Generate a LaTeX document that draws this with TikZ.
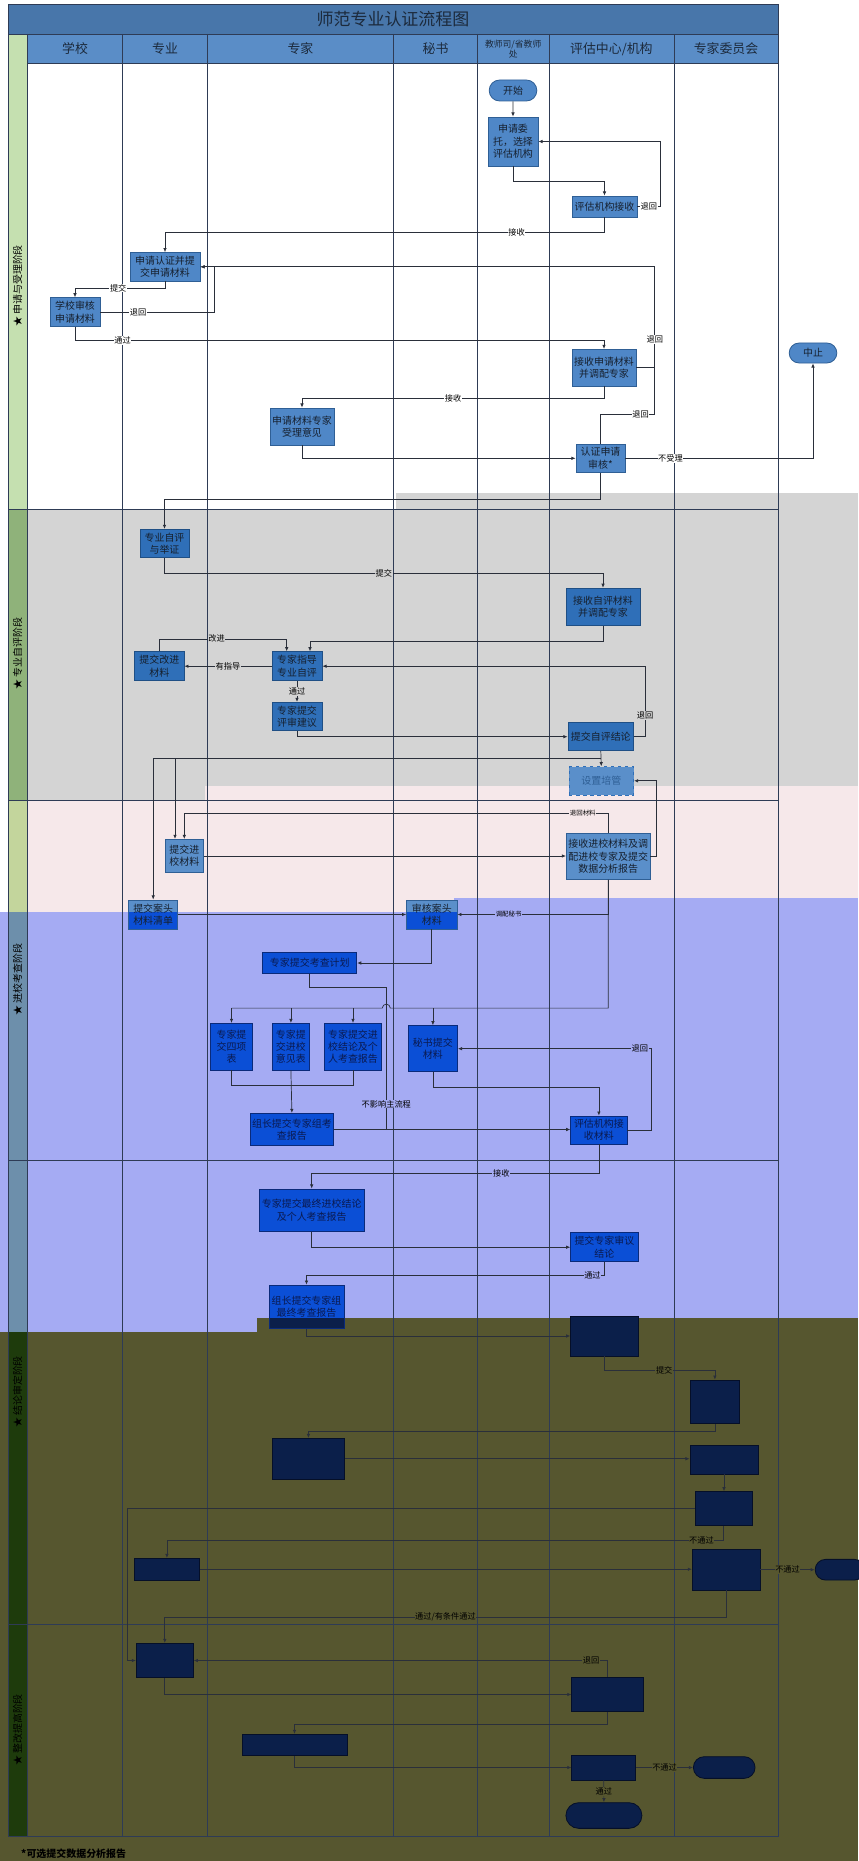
\documentclass[tikz,border=0pt]{standalone}
\usepackage{fontspec}
\setmainfont{Noto Sans CJK SC}
\usepackage{xcolor}
\usetikzlibrary{shapes.misc,arrows.meta,positioning,calc}

\definecolor{titlebg}{HTML}{4876AA}
\definecolor{headbg}{HTML}{5A8DC7}
\definecolor{headtxt}{HTML}{1C2A3C}
\definecolor{colline}{HTML}{2E3B55}
\definecolor{linec}{HTML}{2A2F3A}
\definecolor{stripA}{HTML}{C5E0B0}
\definecolor{stripB}{HTML}{8FB27A}
\definecolor{stripC}{HTML}{C3D59C}
\definecolor{stripD}{HTML}{6D8FAB}
\definecolor{stripE}{HTML}{1E3B0C}
\definecolor{bggray}{HTML}{D4D4D4}
\definecolor{bgpink}{HTML}{F6E8EA}
\definecolor{bgblue}{HTML}{A5ABF3}
\definecolor{bgolive}{HTML}{56562F}
\definecolor{wboxf}{HTML}{4F87C7}
\definecolor{wboxd}{HTML}{2F5F95}
\definecolor{gboxf}{HTML}{2F6FB8}
\definecolor{gboxd}{HTML}{1F4F85}
\definecolor{pboxf}{HTML}{5A8FCA}
\definecolor{bboxf}{HTML}{0B4FD6}
\definecolor{bboxd}{HTML}{0A2A7A}
\definecolor{bboxt}{HTML}{0A1A50}
\definecolor{oboxf}{HTML}{0B1F4A}
\definecolor{oboxd}{HTML}{050F28}
\definecolor{boxtxt}{HTML}{16202E}

\newcommand{\fcBox}{\fontsize{8.5}{10.5}\selectfont}
\newcommand{\fcLbl}{\fontsize{7}{8}\selectfont}
\newcommand{\fcTiny}{\fontsize{5.5}{6}\selectfont}
\newcommand{\fcHead}{\fontsize{11}{12}\selectfont}
\newcommand{\fcSmallHead}{\fontsize{7.5}{9}\selectfont}
\newcommand{\fcTitle}{\fontsize{14.5}{16}\selectfont}
\newcommand{\fcPhase}{\fontsize{8.5}{10}\selectfont}
\newcommand{\fcNote}{\fontsize{8.5}{10}\selectfont\bfseries}

\begin{document}
\begin{tikzpicture}[
    x=0.03cm, y=-0.03cm,
    col/.style={draw=colline, line width=0.5pt},
    line/.style={draw=linec, line width=0.6pt},
    arr/.style={line, -{Latex[length=3.5pt,width=3pt]}},
    lbl/.style={font=\fcLbl, fill=#1, inner sep=0.5pt, text=black},
    lbl/.default=white,
    wbox/.style={rectangle, draw=wboxd, fill=wboxf, text=boxtxt, font=\fcBox, align=center, inner sep=1pt, line width=0.7pt},
    gbox/.style={wbox, draw=gboxd, fill=gboxf},
    pbox/.style={wbox, fill=pboxf},
    bbox/.style={wbox, draw=bboxd, fill=bboxf, text=bboxt},
    obox/.style={wbox, draw=oboxd, fill=oboxf},
    term/.style={rounded rectangle},
    split/.style 2 args={path picture={\fill[#1] ($(path picture bounding box.north west)+(0,#2)$) rectangle (path picture bounding box.south east);}},
    phase/.style={font=\fcPhase, rotate=90, text=black}
]
    \useasboundingbox (0,0) rectangle (858,1861);

    % Background bands
    \fill[bggray] (27,509) rectangle (858,800);
    \fill[bggray] (396,492.7) rectangle (858,509);
    \fill[bgpink] (205,786) rectangle (858,898);
    \fill[bgpink] (27,800) rectangle (454,911.7);
    \fill[bgblue] (454,898) rectangle (858,1320);
    \fill[bgblue] (0,911.7) rectangle (454,1331.7);
    \fill[bgolive] (257,1317.7) rectangle (858,1861);
    \fill[bgolive] (0,1331.7) rectangle (257,1861);

    % Phase strips
    \fill[stripA] (8,34) rectangle (27.4,509);
    \fill[stripB] (8,509) rectangle (27.4,800);
    \fill[stripC] (8,800) rectangle (27.4,911.7);
    \fill[stripD] (8,911.7) rectangle (27.4,1331.7);
    \fill[stripE] (8,1331.7) rectangle (27.4,1836.7);
    \node[phase] (ph1) at (17.7,286) {★\ 申请与受理阶段};
    \node[phase] (ph2) at (17.7,654) {★\ 专业自评阶段};
    \node[phase] (ph3) at (17.7,980) {★\ 进校考查阶段};
    \node[phase] (ph4) at (17.7,1392) {★\ 结论审定阶段};
    \node[phase] (ph5) at (17.7,1730) {★\ 整改提高阶段};

    % Title and lane headers
    \fill[titlebg] (8,4) rectangle (778,34);
    \node[font=\fcTitle, text=headtxt] (title) at (393,19) {师范专业认证流程图};
    \fill[headbg] (27.4,34) rectangle (778,63);
    \node[font=\fcHead, text=headtxt] (hschool) at (75,49) {学校};
    \node[font=\fcHead, text=headtxt] (hmajor) at (165,49) {专业};
    \node[font=\fcHead, text=headtxt] (hexpert) at (300.4,49) {专家};
    \node[font=\fcHead, text=headtxt] (hsec) at (435.5,49) {秘书};
    \node[font=\fcSmallHead, text=headtxt, align=center] (hmin) at (513.2,49) {教师司/省教师\\处};
    \node[font=\fcHead, text=headtxt] (hcenter) at (611.4,49) {评估中心/机构};
    \node[font=\fcHead, text=headtxt] (hboard) at (726,49) {专家委员会};

    % Lanes and frame
    \foreach \x in {27.4,122.6,207.4,393.4,477.7,548.8,674.1,778.1}
        \draw[col] (\x,34) -- (\x,1836.7);
    \draw[col] (8,4) rectangle (778.1,34);
    \draw[col] (8,34) -- (8,1836.7);
    \draw[col] (27.4,63) -- (778.1,63);
    \foreach \y in {509,800,1160.7,1624.3,1836.7}
        \draw[col] (8,\y) -- (778.1,\y);

    % Application and acceptance
    \node[wbox, term, minimum width=1.5cm, minimum height=0.63cm] (start) at (513,90.5) {开始};
    \node[wbox, minimum width=1.5cm, minimum height=1.47cm] (apply) at (513,141.5) {申请委\\托，选择\\评估机构};
    \node[wbox, minimum width=1.95cm, minimum height=0.63cm] (recv) at (604.5,206.5) {评估机构接收};
    \node[wbox, minimum width=2.1cm, minimum height=0.85cm] (submit) at (165,266.8) {申请认证并提\\交申请材料};
    \node[wbox, minimum width=1.5cm, minimum height=0.87cm] (schoolchk) at (75,312.2) {学校审核\\申请材料};
    \node[wbox, minimum width=1.92cm, minimum height=1.1cm] (assign) at (604,367.7) {接收申请材料\\并调配专家};
    \node[wbox, minimum width=1.92cm, minimum height=1.11cm] (opinion) at (302,426.5) {申请材料专家\\受理意见};
    \node[wbox, minimum width=1.47cm, minimum height=0.86cm] (review) at (600.5,458.3) {认证申请\\审核*};
    \node[wbox, term, minimum width=1.5cm, minimum height=0.6cm] (stop) at (813,353) {中止};

    \draw[arr] (start) -- (apply);
    \draw[arr] (apply.south) -- ++(0,14.7) -| (recv.north);
    \draw[arr] (recv.east) -- node[lbl]{退回} ++(23,0) |- (apply.east);
    \draw[arr] (recv.south) -- ++(0,14.5) -| node[lbl,pos=0.1]{接收} (submit.north);
    \draw[arr] (assign.east) -- ++(18.4,0) |- node[lbl,pos=0.14]{退回} (submit.east);
    \draw[line] (review.north) -- ++(0,-29) -| node[lbl,pos=0.37]{退回} ($(assign.east)+(18.4,0)$);
    \draw[arr] (submit.south) -- ++(0,6.7) -| node[lbl,pos=0.26]{提交} (schoolchk.north);
    \draw[arr] (schoolchk.east) -- node[lbl,pos=0.33]{退回} ++(114,0) |- (submit.east);
    \draw[arr] (schoolchk.south) -- ++(0,13.3) -| node[lbl,pos=0.045]{通过} (assign.north);
    \draw[arr] (assign.south) -- ++(0,11.7) -| node[lbl,pos=0.25]{接收} (opinion.north);
    \draw[arr] (opinion.south) |- (review.west);
    \draw[arr] (review.east) -| node[lbl,pos=0.12]{不受理} (stop.south);

    % Self evaluation
    \node[gbox, minimum width=1.47cm, minimum height=0.85cm] (self) at (164.5,543.5) {专业自评\\与举证};
    \node[gbox, minimum width=2.22cm, minimum height=1.13cm] (selfrecv) at (603,607) {接收自评材料\\并调配专家};
    \node[gbox, minimum width=1.5cm, minimum height=0.87cm] (guide) at (297,666.2) {专家指导\\专业自评};
    \node[gbox, minimum width=1.48cm, minimum height=0.87cm] (improve) at (159.3,666.2) {提交改进\\材料};
    \node[gbox, minimum width=1.5cm, minimum height=0.85cm] (advice) at (297,716.5) {专家提交\\评审建议};
    \node[gbox, minimum width=1.97cm, minimum height=0.84cm] (concl) at (600.8,736.7) {提交自评结论};
    \node[wbox, dashed, fill=pboxf, draw=gboxf, text=wboxd, minimum width=1.94cm, minimum height=0.85cm] (mentor) at (601.3,780.8) {设置培管};

    \draw[arr] (review.south) -- ++(0,26.6) -| (self.north);
    \draw[arr] (self.south) -- ++(0,15.5) -| node[lbl=bggray,pos=0.25]{提交} (selfrecv.north);
    \draw[arr] (selfrecv.south) -- ++(0,14.7) -| ($(guide.north)+(13,0)$);
    \draw[arr] (improve.north) -- ++(0,-12.4) -| node[lbl=bggray,pos=0.225]{改进} ($(guide.north)+(-10.3,0)$);
    \draw[arr] (guide.west) -- node[lbl=bggray]{有指导} (improve.east);
    \draw[arr] (guide.south) -- node[lbl=bggray]{通过} (advice.north);
    \draw[arr] (advice.south) |- (concl.west);
    \draw[arr] (concl.east) -- ++(11,0) |- node[lbl=bggray,pos=0.15]{退回} (guide.east);
    \draw[arr] (concl.south) -- (mentor.north);

    % Visit materials
    \node[pbox, minimum width=1.16cm, minimum height=1.0cm] (visit) at (184.3,856) {提交进\\校材料};
    \node[pbox, minimum width=2.51cm, minimum height=1.38cm] (visitrecv) at (608.2,856.3) {接收进校材料及调\\配进校专家及提交\\数据分析报告};
    \node[pbox, split={bboxf}{11.7}, minimum width=1.48cm, minimum height=0.87cm] (desk) at (153.2,914.5) {提交案头\\材料清单};
    \node[pbox, split={bboxf}{11.7}, minimum width=1.51cm, minimum height=0.87cm] (deskchk) at (431.8,914.5) {审核案头\\材料};

    \coordinate (fork) at ($(concl.south)+(0,7.6)$);
    \coordinate (visitA) at ($(visit.north)+(-9.3,0)$);
    \draw[line, line width=1.3pt] (fork) -- (fork -| desk.north);
    \draw[arr] (fork -| desk.north) -- (desk.north);
    \draw[arr] (fork -| visitA) -- (visitA);
    \draw[arr] (visitrecv.east) -- ++(5.5,0) |- (mentor.east);
    \draw[arr] (visitrecv.north) -- ++(0,-20) -| node[lbl=bgpink,font=\fcTiny,pos=0.03]{退回材料} (visit.north);
    \draw[arr] (visit.east) -- (visit.east -| visitrecv.west);
    \draw[arr] (desk.east) -- (deskchk.west);
    \draw[arr] (visitrecv.south) |- node[lbl=bgblue,font=\fcTiny,pos=0.83]{调配秘书} (deskchk.east);

    % On-site review
    \node[bbox, minimum width=2.82cm, minimum height=0.62cm] (plan) at (309.8,963) {专家提交考查计划};
    \node[bbox, minimum width=1.25cm, minimum height=1.4cm] (form4) at (231.5,1046.7) {专家提\\交四项\\表};
    \node[bbox, minimum width=1.13cm, minimum height=1.4cm] (formop) at (290.9,1046.7) {专家提\\交进校\\意见表};
    \node[bbox, minimum width=1.71cm, minimum height=1.4cm] (formrep) at (353,1046.7) {专家提交进\\校结论及个\\人考查报告};
    \node[bbox, minimum width=1.48cm, minimum height=1.38cm] (secsub) at (432.9,1048.7) {秘书提交\\材料};
    \node[bbox, minimum width=2.51cm, minimum height=0.97cm] (leader) at (291.9,1129.5) {组长提交专家组考\\查报告};
    \node[bbox, minimum width=1.69cm, minimum height=0.84cm] (orgrecv) at (598.9,1130) {评估机构接\\收材料};

    \coordinate (bus) at ($(visitrecv.south)+(0,128.4)$);
    \coordinate (detour) at ($(plan.south)+(76.5,14)$);
    \draw[arr] (deskchk.south) |- (plan.east);
    \draw[line] (plan.south) |- (detour) -- node[lbl=bgblue,pos=0.82]{不影响主流程} (detour |- leader.east);
    \draw[line] (visitrecv.south) |- ($(bus -| detour)+(4,0)$) arc[start angle=0, end angle=180, radius=0.12cm] -- (bus -| form4.north);
    \foreach \n in {form4,formop,formrep,secsub}
        \draw[arr] (bus -| \n.north) -- (\n.north);
    \draw[line] (form4.south) -- ++(0,15) -| (formrep.south);
    \draw[arr] (formop.south) -- (leader.north);
    \draw[arr] (leader.east) -- (leader.east -| orgrecv.west);
    \draw[arr] (secsub.south) -- ++(0,15) -| (orgrecv.north);
    \draw[arr] (orgrecv.east) -- ++(24,0) |- node[lbl=bgblue,pos=0.53]{退回} (secsub.east);

    % Final expert conclusions
    \node[bbox, minimum width=3.14cm, minimum height=1.28cm] (final) at (311.7,1210.3) {专家提交最终进校结论\\及个人考查报告};
    \node[bbox, minimum width=2.02cm, minimum height=0.87cm] (panel) at (604.4,1247.2) {提交专家审议\\结论};
    \node[bbox, split={oboxf}{32.7}, minimum width=2.25cm, minimum height=1.3cm] (leadfin) at (306.5,1306.7) {组长提交专家组\\最终考查报告};

    \draw[arr] (orgrecv.south) -- ++(0,29.3) -| node[lbl=bgblue,pos=0.17]{接收} (final.north);
    \draw[arr] (final.south) |- (panel.west);
    \draw[arr] (panel.south) -- ++(0,13.3) -| node[lbl=bgblue,pos=0.02]{通过} (leadfin.north);

    % Conclusion and rectification
    \node[obox, minimum width=2.04cm, minimum height=1.2cm] (verdict) at (604.7,1336) {};
    \node[obox, minimum width=1.49cm, minimum height=1.3cm] (board) at (714.9,1401.7) {};
    \node[obox, minimum width=2.15cm, minimum height=1.22cm] (reply) at (308.4,1458.7) {};
    \node[obox, minimum width=2.04cm, minimum height=0.85cm] (recheck) at (724,1459.9) {};
    \node[obox, minimum width=1.72cm, minimum height=1.02cm] (decide) at (723.7,1508.7) {};
    \node[obox, minimum width=1.97cm, minimum height=0.65cm] (appeal) at (166.9,1569.2) {};
    \node[obox, minimum width=2.03cm, minimum height=1.22cm] (rejudge) at (726.1,1569.7) {};
    \node[obox, term, minimum width=1.56cm, minimum height=0.62cm] (haltA) at (840,1569.7) {};
    \node[obox, minimum width=1.71cm, minimum height=1.03cm] (fixplan) at (164.8,1660.5) {};
    \node[obox, minimum width=2.15cm, minimum height=1.03cm] (fixrecv) at (607.7,1694.5) {};
    \node[obox, minimum width=3.15cm, minimum height=0.64cm] (fixcheck) at (294.5,1745) {};
    \node[obox, minimum width=1.92cm, minimum height=0.75cm] (fixjudge) at (603.8,1767.5) {};
    \node[obox, term, minimum width=1.92cm, minimum height=0.65cm] (haltB) at (724.2,1767.5) {};
    \node[obox, term, minimum width=2.35cm, minimum height=0.77cm] (finish) at (603.9,1815.5) {};

    \draw[arr] (leadfin.south) |- (verdict.west);
    \draw[arr] (verdict.south) -- ++(0,14) -| node[lbl=bgolive,pos=0.27]{提交} (board.north);
    \draw[arr] (board.south) -- ++(0,7.4) -| (reply.north);
    \draw[arr] (reply.east) -- (reply.east -| recheck.west);
    \draw[arr] (recheck.south) -- (recheck.south |- decide.north);
    \coordinate (loop) at ($(fixplan.west)+(-8.3,0)$);
    \draw[arr] (decide.west) -| (loop) -- (fixplan.west);
    \draw[arr] (decide.south) -- ++(0,14.3) -| node[lbl=bgolive,pos=0.02]{不通过} (appeal.north);
    \draw[arr] (appeal.east) -- (appeal.east -| rejudge.west);
    \draw[arr] (rejudge.east) -- node[lbl=bgolive]{不通过} (haltA.west);
    \draw[arr] (rejudge.south) -- ++(0,26.7) -| node[lbl=bgolive,pos=0.25]{通过/有条件通过} (fixplan.north);
    \draw[arr] (fixrecv.north) |- node[lbl=bgolive,pos=0.52]{退回} (fixplan.east);
    \draw[arr] (fixplan.south) |- (fixrecv.west);
    \draw[arr] (fixrecv.south) -- ++(0,12.6) -| (fixcheck.north);
    \draw[arr] (fixcheck.south) |- (fixjudge.west);
    \draw[arr] (fixjudge.east) -- node[lbl=bgolive]{不通过} (haltB.west);
    \draw[arr] (fixjudge.south) -- node[lbl=bgolive]{通过} (finish.north);

    % Footnote
    \node[font=\fcNote, anchor=west, text=black, inner sep=0pt] (note) at (21,1854) {*可选提交数据分析报告};
\end{tikzpicture}
\end{document}
